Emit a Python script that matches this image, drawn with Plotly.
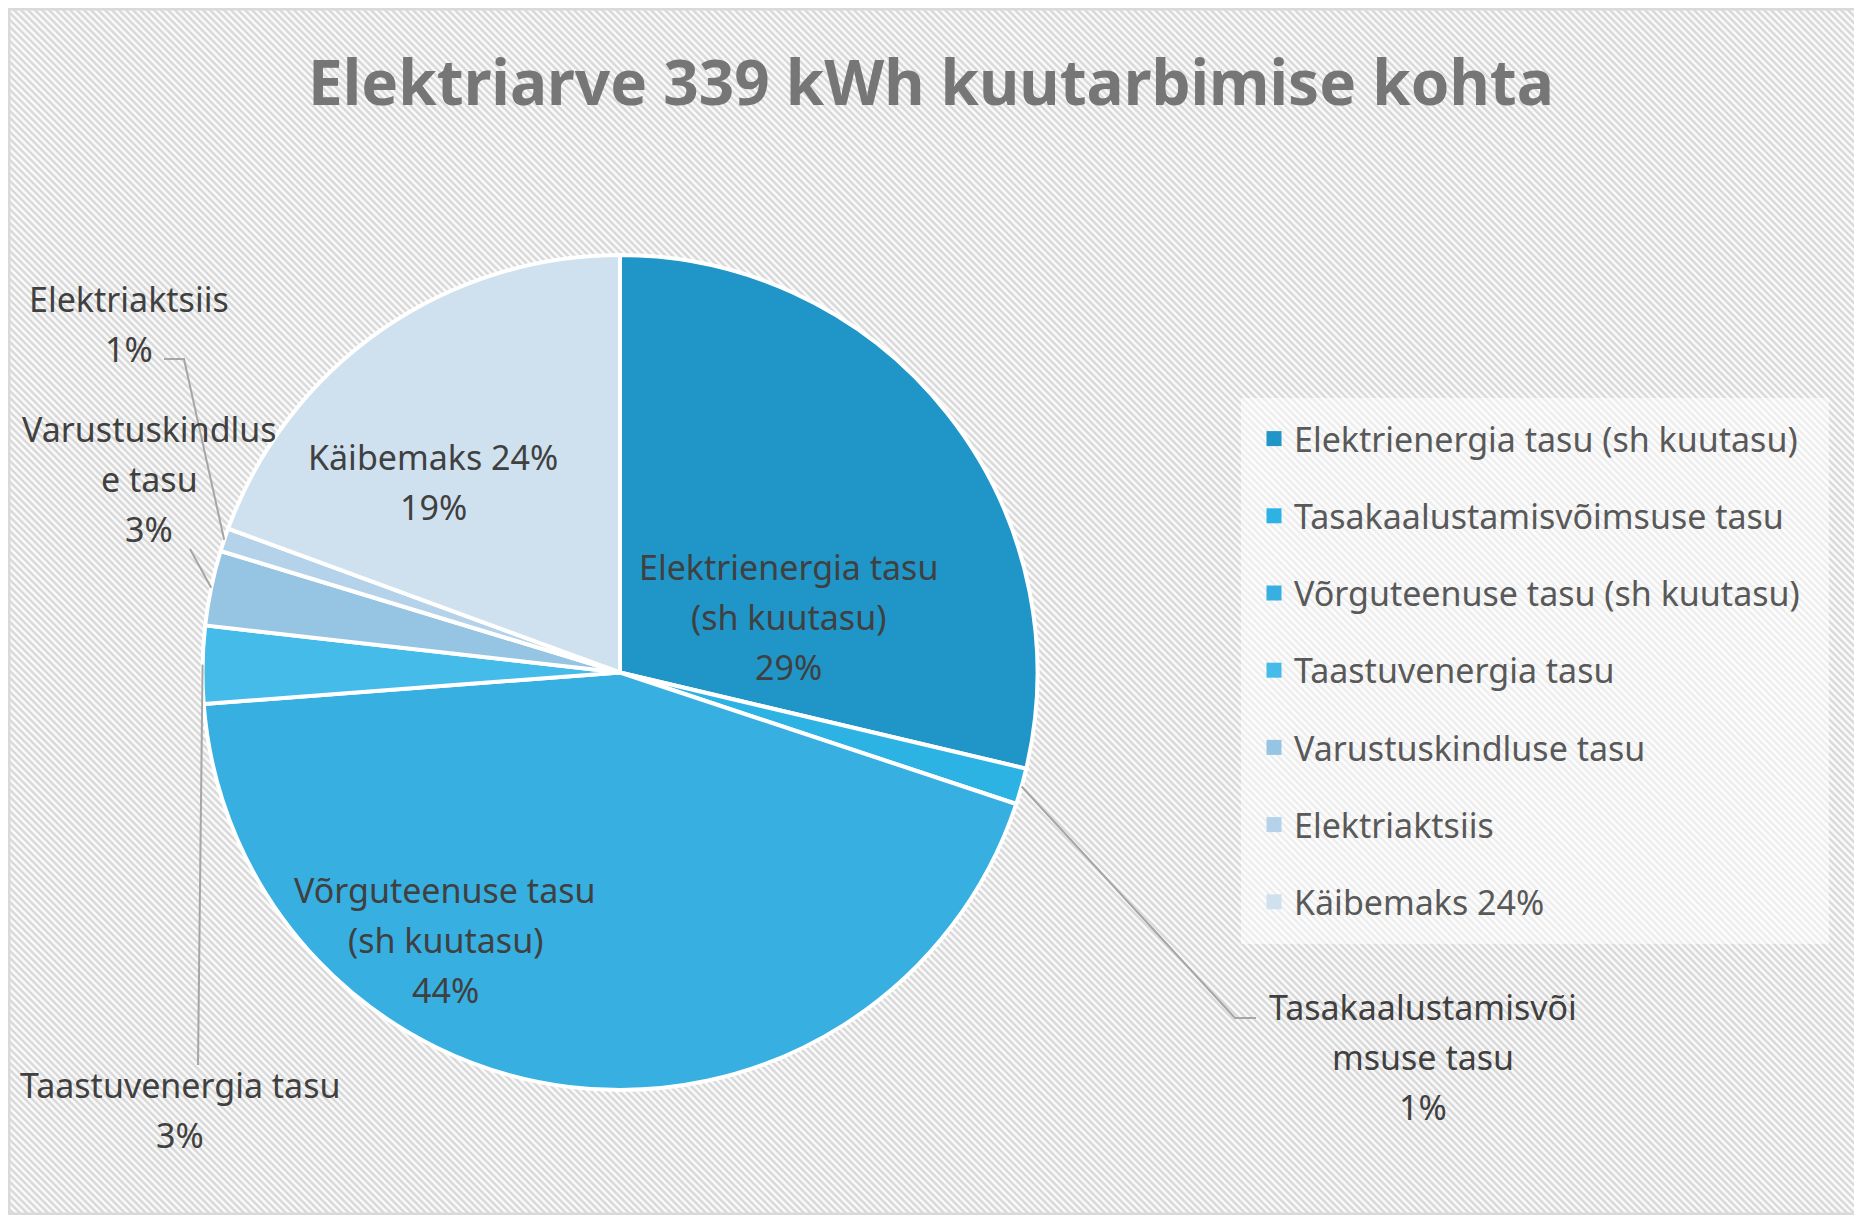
import math
import plotly.graph_objects as go

# monthly bill split, 339 kWh consumption
categories = [
    "Elektrienergia tasu (sh kuutasu)",
    "Tasakaalustamisvõimsuse tasu",
    "Võrguteenuse tasu (sh kuutasu)",
    "Taastuvenergia tasu",
    "Varustuskindluse tasu",
    "Elektriaktsiis",
    "Käibemaks 24%",
]
shares = [28.7, 1.4, 43.7, 3.0, 2.9, 0.9, 19.4]
colors = ["#1f95c8", "#2db2e4", "#37afe1", "#45bbea", "#96c4e3", "#b4d3ea", "#cfe1ef"]

# wrapped label texts as they appear on the chart
label_text = [
    "Elektrienergia tasu<br>(sh kuutasu)",
    "Tasakaalustamisvõi<br>msuse tasu",
    "Võrguteenuse tasu<br>(sh kuutasu)",
    "Taastuvenergia tasu",
    "Varustuskindlus<br>e tasu",
    "Elektriaktsiis",
    "Käibemaks 24%",
]

# page body has an 8px margin, so the figure sits 8px in from the window corner
OFF = 8
W, H = 1862 - OFF, 1215 - OFF
cx, cy, R = 620, 672.5, 417.5   # window pixels
LINE = 50                       # label line spacing

# label centre positions (window pixels) and leader line points for the outside ones
label_pos = [(788, 617), (1423, 1057), (445, 940), (180, 1110), (149, 479), (129, 324), (433, 482)]
leader_pts = [None, [(1235, 1018), (1256, 1018)], None, [(198, 1065)], [(190, 549)],
              [(184, 359), (164, 359)], None]


def to_paper(x, y):
    return (x - OFF) / W, 1 - (y - OFF) / H


fig = go.Figure()

x0, y1 = to_paper(cx - R, cy - R)
x1, y0 = to_paper(cx + R, cy + R)
fig.add_trace(go.Pie(
    labels=categories,
    values=shares,
    sort=False,
    direction="clockwise",
    rotation=0,
    textinfo="none",
    hoverinfo="label+percent",
    marker=dict(colors=colors, line=dict(color="white", width=4)),
    domain=dict(x=[x0, x1], y=[y0, y1]),
    showlegend=False,
))

# legend entries
for name, c in zip(categories, colors):
    fig.add_trace(go.Scatter(
        x=[None], y=[None], mode="markers", name=name, legendgroup=name,
        marker=dict(symbol="square", size=15, color=c),
    ))

total = sum(shares)
annotations = []
shapes = []

# diagonal hatch background
seg = []
for s in range(-H, W + 1, 7):
    seg.append(f"M{s / W:.5f},1 L{(s + H) / W:.5f},0")
shapes.append(dict(type="path", xref="paper", yref="paper", path=" ".join(seg),
                   line=dict(color="#dadada", width=2.6), layer="below"))

# legend box
bx0, by1 = to_paper(1241, 398)
bx1, by0 = to_paper(1829, 944)
shapes.append(dict(type="rect", xref="paper", yref="paper", x0=bx0, x1=bx1, y0=by0, y1=by1,
                   fillcolor="rgba(255,255,255,0.55)", line=dict(width=0), layer="below"))

cum = 0
for i, v in enumerate(shares):
    mid = (cum + v / 2) / total * 2 * math.pi
    cum += v
    pct = f"{round(v / total * 100)}%"
    lines = label_text[i].split("<br>") + [pct]
    px, py = label_pos[i]
    for k, line in enumerate(lines):
        lx, ly = to_paper(px, py + (k - (len(lines) - 1) / 2) * LINE)
        annotations.append(dict(
            x=lx, y=ly, xref="paper", yref="paper", showarrow=False,
            xanchor="center", yanchor="middle", text=line,
            font=dict(size=34, color="#404040", family="Noto Sans"),
        ))
    if leader_pts[i]:
        rx = cx + R * math.sin(mid)
        ry = cy - R * math.cos(mid)
        pts = [(rx, ry)] + leader_pts[i]
        path = "M" + " L".join(f"{to_paper(x, y)[0]:.5f},{to_paper(x, y)[1]:.5f}" for x, y in pts)
        shapes.append(dict(type="path", xref="paper", yref="paper", path=path,
                           line=dict(color="#a6a6a6", width=2)))

# outer frame
shapes.append(dict(type="rect", xref="paper", yref="paper", x0=0, x1=1, y0=0, y1=1,
                   line=dict(color="#d9d9d9", width=5)))

tx, ty = to_paper(931, 83)
lgx, lgy = to_paper(1254, 410)
fig.update_layout(
    width=W, height=H,
    margin=dict(l=0, r=0, t=0, b=0),
    paper_bgcolor="#fafafa",
    plot_bgcolor="rgba(0,0,0,0)",
    title=dict(text="<b>Elektriarve 339 kWh kuutarbimise kohta</b>",
               x=tx, xanchor="center", y=ty, yanchor="middle",
               font=dict(size=62, color="#767676", family="Noto Sans")),
    xaxis=dict(visible=False, range=[0, 1]),
    yaxis=dict(visible=False, range=[0, 1]),
    legend=dict(x=lgx, y=lgy, xanchor="left", yanchor="top",
                bgcolor="rgba(0,0,0,0)", tracegroupgap=30, traceorder="grouped",
                font=dict(size=34, color="#595959", family="Noto Sans")),
    shapes=shapes,
    annotations=annotations,
)

fig.write_html("out.html")
